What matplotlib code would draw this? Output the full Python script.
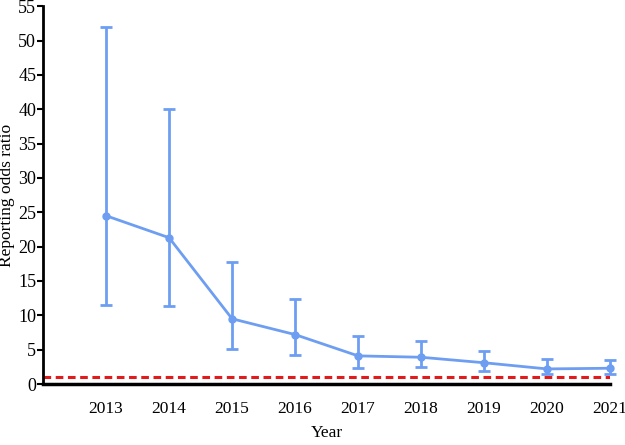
import matplotlib
matplotlib.use('Agg')
import matplotlib.pyplot as plt
import numpy as np

years = [2013, 2014, 2015, 2016, 2017, 2018, 2019, 2020, 2021]
ror = [24.5, 21.3, 9.5, 7.2, 4.1, 3.9, 3.1, 2.2, 2.3]
upper = [52.0, 40.0, 17.7, 12.4, 7.0, 6.2, 4.8, 3.6, 3.5]
lower = [11.5, 11.4, 5.1, 4.2, 2.4, 2.5, 1.9, 1.4, 1.5]

plt.rcParams['font.family'] = ['Liberation Serif', 'DejaVu Serif']

fig = plt.figure(figsize=(6.25, 4.45), dpi=100)
ax = fig.add_axes([0.069, 0.137, 0.907, 0.849])

ror_a = np.array(ror)
yerr = [ror_a - np.array(lower), np.array(upper) - ror_a]
blue = '#6e9ef2'
ax.errorbar(years, ror, yerr=yerr, color=blue, lw=2, marker='o', ms=5,
            capsize=4, capthick=2, elinewidth=2, clip_on=False, zorder=3)

ax.axhline(1, color='#e31a1c', lw=2.2, ls=(0, (2.5, 1.5)), zorder=2)

ax.set_xlim(2012, 2021)
ax.set_ylim(0, 55)
ax.set_yticks(range(0, 56, 5))
ax.set_xticks(years)
ax.tick_params(axis='x', length=0, pad=12, labelsize=12.5)
ax.tick_params(axis='y', direction='out', length=4, width=1.5, labelsize=13, pad=1)

for s in ['top', 'right']:
    ax.spines[s].set_visible(False)
ax.spines['left'].set_linewidth(2)
ax.spines['bottom'].set_linewidth(2.5)

ax.set_xlabel('Year', fontsize=12.5, labelpad=6)
ax.set_ylabel('Reporting odds ratio', fontsize=12.5, labelpad=2)

fig.savefig('out.png', dpi=100)
